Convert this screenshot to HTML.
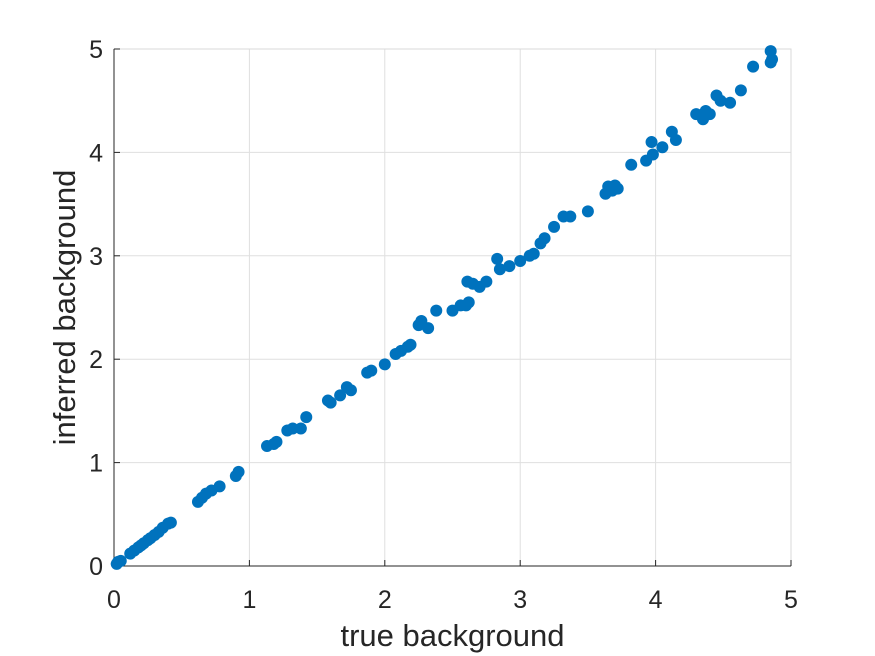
<!DOCTYPE html>
<html><head><meta charset="utf-8"><style>
html,body{margin:0;padding:0;background:#fff;}
svg{display:block;font-family:"Liberation Sans",sans-serif;}
</style></head><body>
<svg id="chart" width="875" height="656" viewBox="0 0 875 656"></svg>
<script>
const xs=[0.02,0.03,0.05,0.12,0.15,0.18,0.2,0.22,0.25,0.27,0.3,0.33,0.36,0.4,0.42,0.62,0.65,0.68,0.72,0.78,0.9,0.92,1.13,1.18,1.2,1.28,1.32,1.38,1.42,1.58,1.6,1.67,1.72,1.75,1.87,1.9,2.0,2.08,2.12,2.17,2.19,2.25,2.27,2.32,2.38,2.5,2.56,2.6,2.62,2.61,2.65,2.7,2.75,2.83,2.85,2.92,3.0,3.07,3.1,3.15,3.18,3.25,3.32,3.37,3.5,3.63,3.65,3.68,3.7,3.72,3.82,3.93,3.97,3.98,4.05,4.12,4.15,4.3,4.35,4.37,4.4,4.45,4.48,4.55,4.63,4.72,4.85,4.86,4.85];
const ys=[0.02,0.04,0.05,0.12,0.15,0.18,0.2,0.22,0.25,0.27,0.3,0.33,0.37,0.41,0.42,0.62,0.66,0.7,0.73,0.77,0.87,0.91,1.16,1.18,1.2,1.31,1.33,1.33,1.44,1.6,1.58,1.65,1.73,1.7,1.87,1.89,1.95,2.05,2.08,2.12,2.14,2.33,2.37,2.3,2.47,2.47,2.52,2.52,2.55,2.75,2.73,2.7,2.75,2.97,2.87,2.9,2.95,3.0,3.02,3.12,3.17,3.28,3.38,3.38,3.43,3.6,3.67,3.63,3.68,3.65,3.88,3.92,4.1,3.98,4.05,4.2,4.12,4.37,4.32,4.4,4.37,4.55,4.5,4.48,4.6,4.83,4.98,4.9,4.87];
const xTicks=[0,1,2,3,4,5];
const yTicks=[0,1,2,3,4,5];
const L=114,R=791,T=49,B=566;
const sx=v=>L+(v-0)/5*(R-L);
const sy=v=>B-(v-0)/5*(B-T);
const svg=document.getElementById('chart');
const NS='http://www.w3.org/2000/svg';
function mk(tag,attrs,parent){const e=document.createElementNS(NS,tag);for(const k in attrs)e.setAttribute(k,attrs[k]);(parent||svg).appendChild(e);return e;}
const grid=mk('g',{});


xTicks.forEach(t=>{mk('line',{x1:sx(t),x2:sx(t),y1:T,y2:B,stroke:'#dfdfdf','stroke-width':1},grid);});
yTicks.forEach(t=>{mk('line',{x1:L,x2:R,y1:sy(t),y2:sy(t),stroke:'#dfdfdf','stroke-width':1},grid);});
const box=mk('rect',{x:L,y:T,width:R-L,height:B-T,fill:'none',stroke:'#d9d9d9','stroke-width':1});


const xa=mk('line',{x1:L,x2:R,y1:B,y2:B,stroke:'#262626','stroke-width':1});


const ya=mk('line',{x1:L,x2:L,y1:T,y2:B,stroke:'#262626','stroke-width':1});


xTicks.forEach(t=>{
  mk('line',{x1:sx(t),x2:sx(t),y1:B,y2:B-6,stroke:'#262626'});
  const tx=mk('text',{x:sx(t),y:B+42,'text-anchor':'middle','font-size':25,fill:'#262626'});
  tx.textContent=t;
  
  
});
yTicks.forEach(t=>{
  mk('line',{x1:L,x2:L+6,y1:sy(t),y2:sy(t),stroke:'#262626'});
  const tx=mk('text',{x:L-11,y:sy(t)+9,'text-anchor':'end','font-size':25,fill:'#262626'});
  tx.textContent=t;
  
  
});
const pts=mk('g',{fill:'#0072BD'});


xs.forEach((x,i)=>{
  const c=mk('circle',{cx:sx(x),cy:sy(ys[i]),r:6},pts);
  
  
});
const xl=mk('text',{x:(L+R)/2,y:646,'text-anchor':'middle','font-size':31,fill:'#262626'});
xl.textContent='true background';


const yl=mk('text',{x:0,y:0,'text-anchor':'middle','font-size':31,fill:'#262626',transform:`translate(75,${(T+B)/2}) rotate(-90)`});
yl.textContent='inferred background';


</script>
</body></html>
